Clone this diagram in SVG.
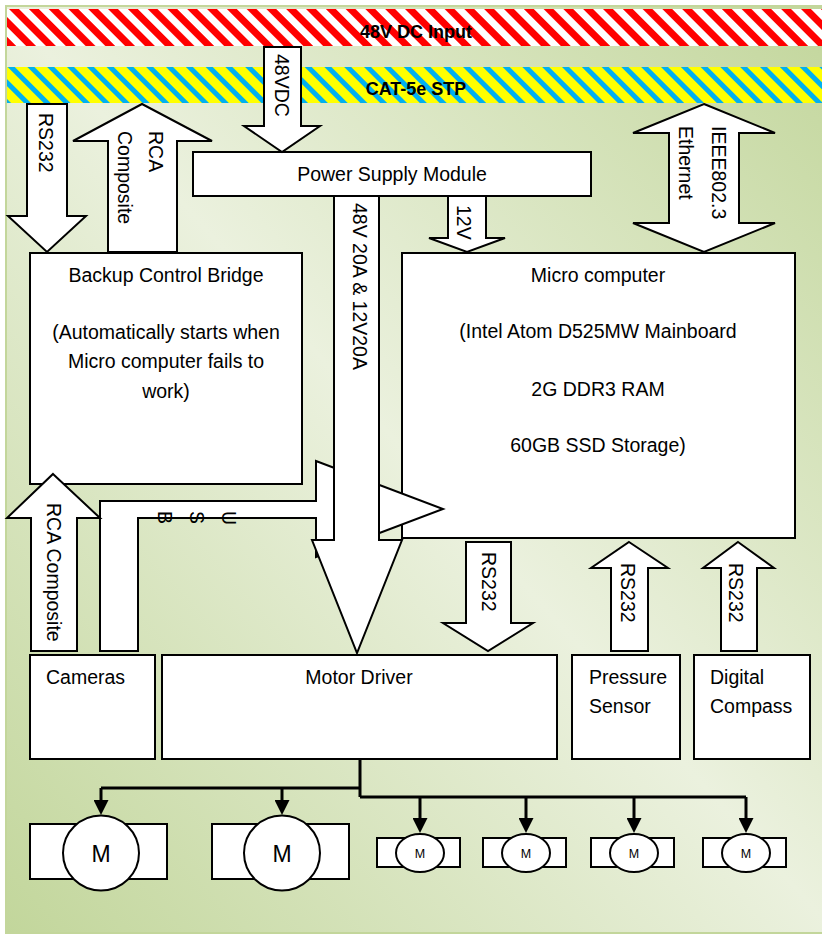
<svg xmlns="http://www.w3.org/2000/svg" width="822" height="938" viewBox="0 0 822 938">
<defs>
  <linearGradient id="bg" x1="0" y1="1" x2="1" y2="0">
    <stop offset="0" stop-color="#c2d69b"/>
    <stop offset="0.5" stop-color="#ebf1de"/>
    <stop offset="1" stop-color="#c2d69b"/>
  </linearGradient>
  <pattern id="redStripe" width="14" height="14" patternUnits="userSpaceOnUse" patternTransform="rotate(-45)">
    <rect width="14" height="14" fill="#ffffff"/>
    <rect width="7" height="14" fill="#ff0000"/>
  </pattern>
  <pattern id="catStripe" width="14" height="14" patternUnits="userSpaceOnUse" patternTransform="rotate(-45)">
    <rect width="14" height="14" fill="#ffff00"/>
    <rect width="5" height="14" fill="#00b0f0"/>
  </pattern>
  <marker id="ah" viewBox="0 0 15 15" refX="0" refY="7.5" markerWidth="15" markerHeight="15" markerUnits="userSpaceOnUse" orient="auto">
    <path d="M0,0 L15,7.5 L0,15 z" fill="#000"/>
  </marker>
  <style>
    .box { fill: #ffffff; stroke: #000000; stroke-width: 2; }
    .arr { fill: #ffffff; stroke: #000000; stroke-width: 2; stroke-linejoin: miter; }
    .t { font-family: "Liberation Sans", Arial, sans-serif; font-size: 19.5px; fill: #000000; }
    .c { text-anchor: middle; }
    .band { font-family: "Liberation Sans", Arial, sans-serif; font-size: 18px; font-weight: bold; fill: #000000; text-anchor: middle; }
    .wire { fill: none; stroke: #000000; stroke-width: 3; }
    .mbig { font-family: "Liberation Sans", Arial, sans-serif; font-size: 23px; text-anchor: middle; fill: #000; }
    .msm { font-family: "Liberation Sans", Arial, sans-serif; font-size: 12.5px; text-anchor: middle; fill: #000; }
  </style>
</defs>

<rect x="6" y="6" width="830" height="927" fill="url(#bg)" stroke="#c3d69b" stroke-width="2"/>

<g id="band-48v">
  <rect x="7" y="9" width="820" height="37" fill="url(#redStripe)"/>
  <text class="band" x="416" y="37.5">48V DC Input</text>
</g>
<g id="band-cat5e">
  <rect x="7" y="67" width="820" height="36" fill="url(#catStripe)"/>
  <text class="band" x="416" y="94.5">CAT-5e STP</text>
</g>

<g id="power-supply">
  <rect class="box" x="193" y="152" width="398" height="44"/>
  <text class="t c" x="392" y="181">Power Supply Module</text>
</g>

<g id="backup-bridge">
  <rect class="box" x="30" y="253" width="272" height="231"/>
  <text class="t c" x="166" y="282">Backup Control Bridge</text>
  <text class="t c" x="166" y="339">(Automatically starts when</text>
  <text class="t c" x="166" y="368">Micro computer fails to</text>
  <text class="t c" x="166" y="398">work)</text>
</g>

<g id="micro-computer">
  <rect class="box" x="402" y="253" width="393" height="285"/>
  <text class="t c" x="598" y="282">Micro computer</text>
  <text class="t c" x="598" y="338">(Intel Atom D525MW Mainboard</text>
  <text class="t c" x="598" y="396">2G DDR3 RAM</text>
  <text class="t c" x="598" y="452">60GB SSD Storage)</text>
</g>

<g id="cameras">
  <rect class="box" x="30" y="655" width="125" height="104"/>
  <text class="t" x="46" y="684">Cameras</text>
</g>

<g id="motor-driver">
  <rect class="box" x="162" y="655" width="395" height="104"/>
  <text class="t c" x="359" y="684">Motor Driver</text>
</g>

<g id="pressure-sensor">
  <rect class="box" x="572" y="655" width="108" height="104"/>
  <text class="t" x="589" y="684">Pressure</text>
  <text class="t" x="589" y="713">Sensor</text>
</g>

<g id="digital-compass">
  <rect class="box" x="694" y="655" width="116" height="104"/>
  <text class="t" x="710" y="684">Digital</text>
  <text class="t" x="710" y="713">Compass</text>
</g>

<g id="motor-1">
  <rect class="box" x="30" y="824" width="137" height="55"/>
  <ellipse class="box" cx="101" cy="853" rx="38" ry="37.5"/>
  <text class="mbig" x="101" y="861.5">M</text>
</g>
<g id="motor-2">
  <rect class="box" x="212" y="824" width="137" height="55"/>
  <ellipse class="box" cx="282" cy="853" rx="38" ry="37.5"/>
  <text class="mbig" x="282" y="861.5">M</text>
</g>
<g id="motor-3">
  <rect class="box" x="377" y="838" width="83" height="29"/>
  <ellipse class="box" cx="420" cy="853" rx="24" ry="19"/>
  <text class="msm" x="420" y="857.5">M</text>
</g>
<g id="motor-4">
  <rect class="box" x="483" y="838" width="83" height="29"/>
  <ellipse class="box" cx="526" cy="853" rx="24" ry="19"/>
  <text class="msm" x="526" y="857.5">M</text>
</g>
<g id="motor-5">
  <rect class="box" x="591" y="838" width="83" height="29"/>
  <ellipse class="box" cx="634" cy="853" rx="24" ry="19"/>
  <text class="msm" x="634" y="857.5">M</text>
</g>
<g id="motor-6">
  <rect class="box" x="703" y="838" width="83" height="29"/>
  <ellipse class="box" cx="746" cy="853" rx="24" ry="19"/>
  <text class="msm" x="746" y="857.5">M</text>
</g>

<g id="connectors">
  <!-- 48VDC into power supply -->
  <polygon class="arr" points="264,47 301,47 301,126 320,126 282,152 244,126 264,126"/>
  <text class="t" transform="translate(275,54) rotate(90)">48VDC</text>

  <!-- RS232 down into backup bridge -->
  <polygon class="arr" points="27,104 67,104 67,216 86,216 47,252 8,216 27,216"/>
  <text class="t" transform="translate(39,113) rotate(90)">RS232</text>

  <!-- RCA Composite up from backup bridge -->
  <polygon class="arr" points="142,104 212,141 177,141 177,252 108,252 108,141 73,141"/>
  <text class="t" transform="translate(149,131) rotate(90)">RCA</text>
  <text class="t" transform="translate(118,131) rotate(90)">Composite</text>

  <!-- 12V into micro computer -->
  <polygon class="arr" points="448,196 486,196 486,238 505,238 467,252 429,238 448,238"/>
  <text class="t" transform="translate(457,205) rotate(90)">12V</text>

  <!-- IEEE802.3 Ethernet double arrow -->
  <polygon class="arr" points="704,104 775,133 739,133 739,223 775,223 704,252 633,223 669,223 669,133 633,133"/>
  <text class="t" transform="translate(712,126) rotate(90)">IEEE802.3</text>
  <text class="t" transform="translate(679,126) rotate(90)">Ethernet</text>

  <!-- USB bent arrow cameras to micro computer -->
  <polygon class="arr" points="100,651 100,501 316,501 316,461 443,509 316,557 316,518 138,518 138,651"/>
  <text class="t" transform="translate(222,511) rotate(90)">U</text>
  <text class="t" transform="translate(190,511) rotate(90)">S</text>
  <text class="t" transform="translate(158,511) rotate(90)">B</text>

  <!-- 48V 20A & 12V20A to motor driver -->
  <polygon class="arr" points="334,196 379,196 379,540 402,540 357,653 312,540 334,540"/>
  <text class="t" transform="translate(352.5,203) rotate(90)">48V 20A &amp; 12V20A</text>

  <!-- RS232 micro computer to motor driver -->
  <polygon class="arr" points="466,542 511,542 511,623 533,623 488,651 443,623 466,623"/>
  <text class="t" transform="translate(482,552) rotate(90)">RS232</text>

  <!-- RS232 pressure sensor up -->
  <polygon class="arr" points="629,542 668,568 648,568 648,651 611,651 611,568 591,568"/>
  <text class="t" transform="translate(620.5,563) rotate(90)">RS232</text>

  <!-- RS232 digital compass up -->
  <polygon class="arr" points="738,542 774,568 757,568 757,651 721,651 721,568 703,568"/>
  <text class="t" transform="translate(728.5,563) rotate(90)">RS232</text>

  <!-- RCA Composite cameras up to backup bridge -->
  <polygon class="arr" points="53,474 100,518 77,518 77,651 31,651 31,518 7,518"/>
  <text class="t" transform="translate(47,503) rotate(90)">RCA Composite</text>

  <!-- motor wiring -->
  <path class="wire" d="M360,759 V797 M360,788 H101 M360,797 H746"/>
  <path class="wire" d="M101,788 V800" marker-end="url(#ah)"/>
  <path class="wire" d="M282,788 V800" marker-end="url(#ah)"/>
  <path class="wire" d="M420,797 V818" marker-end="url(#ah)"/>
  <path class="wire" d="M526,797 V818" marker-end="url(#ah)"/>
  <path class="wire" d="M634,797 V818" marker-end="url(#ah)"/>
  <path class="wire" d="M746,797 V818" marker-end="url(#ah)"/>
</g>
</svg>
